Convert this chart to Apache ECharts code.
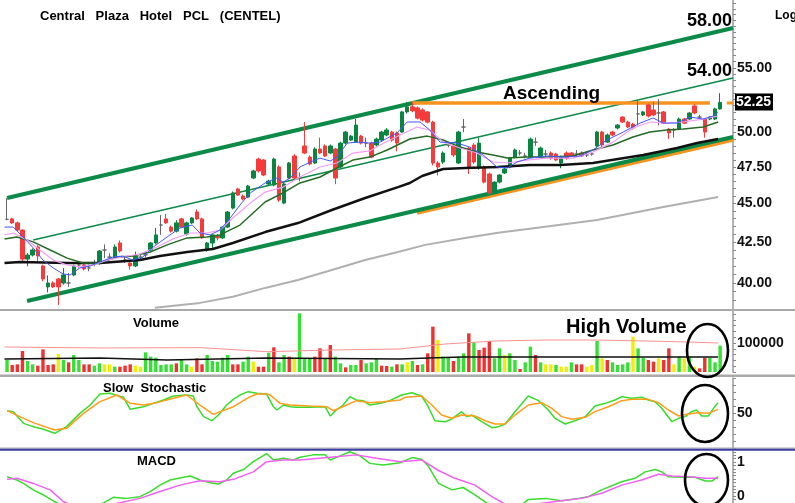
<!DOCTYPE html>
<html>
<head>
<meta charset="utf-8">
<title>CENTEL</title>
<script src="https://cdn.jsdelivr.net/npm/echarts@6.0.0/dist/echarts.min.js"></script>
<style>
html, body { margin: 0; padding: 0; background: #fff; }
#chart { width: 795px; height: 503px; }
</style>
</head>
<body>
<div id="chart"></div>
<script>
// daily candles: [open, close, low, high]
var candles = [
    [43.95, 43.95, 43.90, 45.35], [43.98, 43.72, 43.65, 44.05], [43.72, 43.26, 43.20, 43.80], [43.26, 41.44, 41.30, 43.30],
    [41.44, 41.69, 41.00, 41.80], [41.69, 42.00, 41.60, 42.10], [42.19, 41.63, 41.30, 42.30], [41.02, 40.24, 40.10, 41.10],
    [39.77, 40.00, 39.45, 40.45], [40.00, 39.77, 39.70, 40.10], [40.24, 39.77, 38.72, 40.30], [40.00, 40.48, 39.90, 40.90],
    [40.00, 40.00, 39.77, 40.60], [40.48, 41.02, 40.40, 41.10], [41.08, 41.08, 40.90, 41.30], [41.08, 40.84, 40.75, 41.20],
    [40.90, 40.90, 40.70, 41.10], [41.20, 41.20, 41.00, 41.40], [41.20, 41.94, 41.10, 42.00], [42.00, 42.00, 41.50, 42.35],
    [41.56, 41.56, 41.40, 41.80], [41.56, 42.19, 41.50, 42.35], [42.44, 41.94, 41.85, 42.60], [41.38, 41.38, 41.20, 41.60],
    [41.20, 41.02, 40.80, 41.30], [41.02, 41.63, 40.95, 41.90], [41.56, 41.56, 41.40, 41.75], [41.70, 41.70, 41.55, 41.90],
    [42.00, 42.44, 41.90, 42.50], [42.44, 42.95, 42.35, 43.40], [43.58, 43.58, 42.95, 44.23], [43.98, 43.72, 43.65, 44.30],
    [43.45, 43.19, 43.10, 43.55], [43.19, 43.72, 43.10, 43.90], [43.98, 43.45, 43.40, 44.05], [43.00, 43.72, 42.90, 43.80],
    [43.72, 44.04, 43.65, 44.10], [44.43, 43.98, 43.90, 44.60], [43.98, 42.76, 42.70, 44.05], [42.00, 42.44, 41.90, 42.50],
    [42.44, 42.95, 42.10, 43.00], [42.89, 42.76, 42.60, 43.00], [42.76, 43.45, 42.70, 43.50], [43.45, 44.43, 43.40, 44.50],
    [44.69, 45.70, 44.60, 45.80], [45.97, 45.56, 45.50, 46.05], [45.49, 45.29, 45.20, 45.60], [45.42, 46.17, 45.35, 46.25],
    [46.72, 47.21, 46.65, 47.30], [48.05, 47.21, 47.10, 48.15], [47.98, 46.93, 46.85, 48.05], [46.31, 46.51, 46.20, 46.60],
    [46.24, 48.05, 46.15, 48.15], [47.49, 45.22, 45.10, 47.60], [45.02, 46.31, 44.95, 46.40], [46.72, 47.77, 46.65, 47.85],
    [48.27, 46.72, 46.65, 48.40], [46.72, 46.72, 46.50, 47.10], [48.99, 48.48, 48.40, 50.75], [48.19, 47.70, 47.60, 48.30],
    [47.77, 48.77, 47.70, 48.90], [48.77, 48.48, 48.40, 49.60], [48.99, 48.27, 48.20, 49.10], [48.48, 48.99, 48.40, 49.10],
    [48.77, 46.72, 46.30, 48.85], [47.49, 49.20, 47.40, 49.30], [49.20, 50.01, 49.10, 50.10], [49.42, 49.71, 49.35, 49.80],
    [49.27, 50.53, 49.20, 51.00], [49.71, 49.20, 49.10, 49.80], [49.20, 49.20, 48.90, 49.60], [49.20, 48.19, 48.10, 49.30],
    [49.06, 49.49, 48.95, 49.60], [49.42, 50.01, 49.30, 50.10], [49.79, 50.16, 49.70, 50.30], [50.01, 49.42, 49.30, 50.10],
    [49.94, 49.20, 48.60, 50.05], [50.01, 51.52, 49.95, 51.60], [51.52, 51.91, 51.40, 52.30], [51.91, 51.60, 51.50, 52.25],
    [51.83, 51.05, 50.95, 51.95], [51.67, 50.90, 50.80, 51.80], [51.52, 50.75, 50.65, 51.60], [50.75, 47.77, 47.60, 50.85],
    [47.77, 47.49, 46.90, 47.90], [47.84, 48.48, 47.70, 48.60], [49.06, 49.06, 48.90, 49.30], [48.99, 48.34, 48.20, 49.10],
    [47.77, 50.01, 47.70, 50.10], [50.38, 50.38, 50.00, 50.98], [48.84, 47.49, 47.00, 48.95], [49.06, 47.84, 47.70, 49.20],
    [47.42, 49.20, 47.30, 49.60], [47.49, 46.44, 46.35, 47.60], [47.00, 45.70, 45.49, 47.10], [45.76, 46.44, 45.70, 46.50],
    [46.44, 46.93, 46.35, 47.00], [47.07, 47.35, 47.00, 47.45], [47.49, 48.12, 47.40, 48.20], [48.19, 48.70, 48.10, 48.80],
    [48.48, 48.48, 48.30, 48.70], [48.27, 48.27, 48.10, 48.50], [48.19, 49.49, 48.10, 49.60], [49.27, 49.27, 49.00, 49.60],
    [48.19, 48.84, 48.10, 48.95], [48.41, 48.41, 48.20, 48.70], [48.48, 48.12, 48.00, 48.60], [48.41, 47.98, 47.90, 48.50],
    [47.77, 48.19, 47.40, 48.30], [48.48, 48.12, 48.00, 48.60], [48.48, 48.27, 48.20, 48.55], [48.41, 48.41, 48.20, 48.70],
    [48.48, 48.27, 48.20, 48.60], [48.34, 48.34, 48.20, 48.60], [48.41, 48.41, 48.30, 48.55], [48.99, 50.01, 48.90, 50.10],
    [50.01, 49.06, 48.90, 50.10], [49.27, 49.79, 49.20, 49.90], [50.01, 49.79, 49.70, 50.10], [50.31, 50.53, 50.20, 50.60],
    [51.13, 50.75, 50.70, 51.20], [50.75, 50.38, 50.30, 50.85], [50.60, 50.31, 50.20, 50.70], [51.37, 51.37, 50.50, 52.40],
    [51.29, 51.52, 51.20, 51.60], [52.06, 51.21, 51.10, 52.15], [51.67, 51.29, 51.20, 52.30], [51.44, 51.44, 50.50, 52.50],
    [51.52, 50.67, 50.60, 51.60], [50.23, 49.94, 49.50, 50.30], [50.16, 50.16, 49.60, 50.30], [50.23, 50.98, 50.15, 51.10],
    [50.98, 50.67, 50.60, 51.05], [50.98, 51.44, 50.90, 51.50], [51.98, 51.44, 51.35, 52.10], [51.13, 51.13, 50.95, 51.30],
    [50.98, 50.01, 49.60, 51.05], [50.98, 51.13, 50.90, 51.20], [50.98, 51.75, 50.90, 51.85], [51.75, 52.25, 51.70, 52.97]
];

// daily volume and its colour code (g = up, r = down, y = unchanged)
var volumes = [
    41400, 24100, 26400, 72400, 37900, 26400, 21800, 78200, 24100, 26400,
    62100, 41400, 33300, 58600, 41400, 26400, 26400, 21800, 29900, 26400,
    26400, 18400, 18400, 21800, 26400, 21800, 18400, 67800, 52900, 49400,
    24100, 26400, 26400, 29900, 41400, 26400, 18400, 47100, 26400, 58600,
    37900, 35600, 49400, 58600, 26400, 26400, 35600, 52900, 35600, 18400,
    18400, 66700, 85100, 33300, 58600, 52900, 47100, 202300, 47100, 47100,
    52900, 81600, 47100, 93100, 52900, 29900, 16100, 24100, 24100, 41400,
    29900, 33300, 47100, 21800, 20700, 18400, 26400,
    26400, 33300, 37900, 24100, 26400, 64400, 156300, 110300, 52900, 49400,
    37900, 52900, 64400, 133300, 102300, 75900, 83900, 106900, 47100, 81600,
    58600, 64400, 41400, 10300, 33300, 87400, 58600, 33300, 26400, 26400,
    24100, 18400, 18400, 33300, 26400, 26400, 18400, 24100, 106900, 47100,
    41400, 33300, 24100, 26400, 33300, 121800, 81600, 49400, 41400, 35600,
    47100, 41400, 81600, 26400, 52900, 47100, 52900, 18400, 12600, 49400,
    49400, 33300, 90800
];
var volumeDir = 'grrrggrrrr' + 'ygrggrrggy' + 'ygrrryyggg' + 'gggrggyrrg' + 'ggggrrggyr' +
    'rgrggryggg' + 'rrgrggrggr' + 'gggrrgr' + 'gygrgrrygg' + 'rggrgrrrgg' + 'yggrggrgyy' +
    'gyygrryygy' + 'rggggyggrr' + 'yrrygygyrr' + 'ggg';

// moving averages: [day, price]
var maShort = [[-0.5, 43.45], [1.2, 43.45], [3.1, 42.82], [5.1, 42.13], [7, 41.38], [9, 40.90], [10.9, 40.54], [12.3, 40.48],
    [14.2, 40.90], [16.2, 41.02], [18.1, 41.26], [20.6, 41.56], [22.6, 41.63], [24.5, 41.38], [26.5, 41.56], [28.5, 42.19],
    [31.2, 42.82], [33.7, 43.39], [36.1, 43.58], [37.6, 43.07], [39.6, 42.95], [41.5, 43.26], [43.5, 44.04], [45.4, 44.89],
    [47.4, 45.70], [50.3, 46.38], [52.6, 46.72], [53.8, 46.44], [55.2, 46.72], [57.1, 47.49], [59.1, 47.84], [61, 48.12],
    [63, 47.91], [64.3, 48.19], [66.3, 49.20], [68.2, 49.27], [70.7, 49.20], [72.7, 49.27], [76, 49.94], [78, 50.76],
    [80.5, 50.76], [82.4, 50.16], [84.4, 49.27], [87.7, 49.20], [90.2, 48.91], [92.8, 48.34], [95.5, 47.49], [97.5, 47.42],
    [99.4, 47.84], [101.9, 48.12], [105.3, 48.27], [108.4, 48.19], [111.7, 48.27], [114.2, 48.70], [116.9, 49.42],
    [120.1, 50.01], [123.4, 50.68], [125.9, 51.06], [127.9, 50.68], [130.6, 50.68], [133.1, 51.13], [135.7, 50.98],
    [137.6, 51.21], [138.6, 51.50]];
var maMid = [[-0.5, 42.95], [1.2, 43.07], [3.9, 42.63], [6.4, 42.00], [9, 41.38], [11.7, 41.08], [14.2, 40.96], [16.8, 41.08],
    [19.5, 41.38], [23.4, 41.63], [25.9, 41.75], [29.2, 42.19], [32.3, 42.69], [35.7, 43.07], [39, 43.07], [41.5, 43.26],
    [44, 44.04], [47.4, 45.02], [50.3, 45.76], [53.8, 46.10], [57.1, 46.79], [61, 47.49], [64.3, 47.77], [67.4, 48.48],
    [70.7, 48.63], [72.7, 49.06], [76.6, 49.79], [79.9, 50.38], [82.4, 50.16], [85, 49.27], [88.3, 48.84], [91.6, 48.48],
    [94.7, 47.84], [97.5, 47.77], [101.3, 47.98], [105.3, 48.12], [110.3, 48.12], [114.2, 48.55], [118.1, 49.27],
    [122, 50.31], [125.3, 50.76], [128.6, 50.68], [131.8, 50.76], [135.7, 50.98], [138.6, 51.21]];
var maMedium = [[-0.5, 42.69], [1.9, 42.82], [5.1, 42.51], [8.4, 42.00], [11.7, 41.50], [14.8, 41.20], [18.1, 41.20],
    [21.4, 41.56], [24.5, 41.63], [27.9, 41.88], [31.2, 42.32], [35.1, 42.76], [39, 42.82], [41.5, 42.95], [45.4, 43.58],
    [50.3, 45.09], [53.8, 45.70], [57.1, 46.38], [61, 46.79], [64.3, 47.42], [67.4, 47.98], [70.7, 48.19], [74.1, 48.70],
    [78.5, 49.50], [81.9, 49.71], [85, 49.42], [88.3, 48.91], [91.6, 48.55], [94.7, 48.34], [97.5, 48.12], [101.3, 48.19],
    [105.3, 48.19], [110.3, 48.27], [114.2, 48.70], [118.1, 49.06], [122, 49.64], [125.3, 50.01], [128.6, 50.16],
    [131.8, 50.23], [135.7, 50.38], [138.6, 50.76]];
var maLong = [[-0.5, 41.20], [2.5, 41.26], [11.7, 41.20], [18.1, 41.20], [25.9, 41.38], [29.8, 41.63], [35.1, 41.88],
    [40.1, 42.06], [44, 42.44], [50.3, 43.13], [56.7, 43.71], [63.3, 44.56], [69.8, 45.36], [76.2, 46.10], [78.5, 46.38],
    [80.9, 46.86], [85, 47.35], [89.3, 47.42], [95.7, 47.49], [101.9, 47.63], [107.8, 47.63], [114.2, 47.77], [124, 48.34],
    [130.6, 48.84], [134.5, 49.20], [138.6, 49.50]];
var maVeryLong = [[28.8, 38.56], [37.6, 38.84], [44, 39.19], [50.3, 39.71], [56.7, 40.18], [63.3, 40.78], [69.8, 41.38],
    [76.2, 41.88], [81.5, 42.32], [89.3, 42.76], [95.7, 43.09], [101.9, 43.35], [115, 43.91], [127.9, 44.76], [138.6, 45.43]];

// trend lines: [day, price]
var upperChannel = [[0, 45.36], [141.5, 58.33]];
var middleChannel = [[5.1, 42.63], [141.5, 54.17]];
var lowerChannel = [[3.9, 38.95], [141.5, 49.64]];
var resistance = [[78.9, 52.2], [137, 52.2]];
var resistanceTick = [[140.3, 52.2], [141.5, 52.2]];
var support = [[79.9, 44.36], [141.5, 49.42]];

// volume averages: [day, volume]
var volAvgLong = [[-0.5, 86200], [18.1, 82800], [37.6, 84000], [50.7, 70000], [63.5, 75900], [76.6, 79300], [85.4, 96600],
    [95.1, 106900], [104.9, 110300], [114.6, 110300], [124.4, 106900], [132.7, 103400], [138.6, 100000]];
var volAvgShort = [[-0.5, 44800], [18.1, 48300], [31.2, 41400], [50.7, 48300], [76.6, 44800], [82.1, 48300], [88.7, 51700],
    [101.6, 51700], [127.7, 51700], [138.6, 51700]];

// slow stochastic: [day, value]
var stochK = [[0, 53.3], [1.2, 51.9], [3.2, 35.2], [5.1, 30.5], [7.1, 26.7], [9.3, 21.0], [11.6, 30.5], [14.2, 49.5],
    [16.2, 61.4], [18.1, 77.1], [20.1, 78.1], [21.7, 74.3], [22.7, 72.4], [24, 55.2], [26.6, 59.0], [28.5, 63.8],
    [30.5, 68.6], [32.4, 74.3], [35, 75.7], [36.3, 74.3], [37, 59.0], [38.3, 44.8], [39.9, 39.0], [41.2, 47.1],
    [42.8, 61.4], [44.1, 69.5], [45.4, 75.7], [47, 80.5], [48.7, 78.1], [50.6, 77.1], [51.9, 59.0], [52.6, 54.3],
    [53.9, 61.4], [55.2, 59.0], [56.4, 58.1], [59, 58.1], [62, 59.0], [63, 45.7], [64.2, 54.3], [65.5, 61.4], [66.8, 73.3],
    [68.1, 68.6], [69.4, 67.6], [70.7, 61.4], [72, 62.9], [73.3, 64.8], [74.6, 67.6], [76.9, 75.7], [78.9, 79.0],
    [80.8, 74.3], [82.1, 59.0], [83.4, 39.0], [85.4, 37.6], [86.3, 40.0], [87.3, 44.8], [88.6, 51.9], [89.6, 44.8],
    [90.6, 47.1], [92.5, 37.6], [94.5, 29.0], [95.8, 30.5], [97.1, 34.3], [99, 51.9], [101.6, 74.3], [103.6, 67.6],
    [105.5, 54.3], [106.8, 42.4], [108.8, 34.3], [110.7, 39.0], [112.7, 44.8], [114.6, 60.0], [116.6, 63.8], [118.5, 68.6],
    [119.8, 73.3], [121.8, 71.0], [123.7, 72.4], [125, 68.6], [126.3, 66.2], [127.6, 56.7], [129.6, 37.6], [130.9, 42.4],
    [132.2, 44.8], [133.4, 51.9], [134.4, 54.3], [135.4, 45.7], [136.7, 45.7], [137.7, 56.7], [138.6, 64.8]];
var stochD = [[0, 53.3], [2.5, 44.8], [5.1, 36.2], [9.3, 25.7], [11.6, 28.1], [14.9, 49.5], [18.1, 66.2], [21.4, 75.7],
    [24, 63.8], [26.6, 61.4], [29.2, 64.8], [32.4, 71.0], [35, 75.7], [37.6, 61.4], [40.2, 48.1], [44.1, 59.0], [47.4, 73.3],
    [48.7, 77.1], [50.6, 77.1], [51.3, 75.7], [53.2, 63.8], [55.2, 61.4], [59, 60.0], [62.3, 59.0], [63.6, 53.3],
    [66.2, 61.4], [68.1, 67.6], [70.7, 64.8], [73.3, 66.2], [76.6, 68.6], [77.6, 72.4], [80.8, 74.3], [82.8, 61.4],
    [84.7, 47.1], [86.7, 42.4], [88.6, 47.1], [91.2, 45.7], [93.2, 39.0], [95.1, 34.3], [97.1, 34.3], [99, 47.1],
    [101.6, 61.4], [104.2, 64.8], [106.2, 56.7], [108.1, 44.8], [110.1, 41.0], [112.7, 43.8], [114.6, 51.9], [117.2, 59.0],
    [119.8, 67.6], [121.8, 69.5], [125, 69.5], [127, 64.8], [128.9, 54.3], [130.9, 45.7], [132.8, 48.6], [134.7, 50.5],
    [136.7, 49.5], [138.6, 55.2]];

// MACD: [day, value]
var macdLine = [[0, 0.57], [1.9, 0.47], [3.2, 0.37], [5.1, 0.18], [7.1, 0.03], [9.3, -0.17], [11, -0.30], [14.9, -0.50],
    [18.8, -0.20], [20.7, -0.04], [23.3, -0.07], [25.9, -0.02], [27.9, 0.13], [29.8, 0.32], [31.8, 0.47], [34.4, 0.55],
    [35.7, 0.59], [37.6, 0.47], [39.6, 0.39], [41.2, 0.35], [42.8, 0.47], [44.1, 0.67], [46.1, 0.78], [48, 1.01],
    [50.6, 1.25], [51.9, 1.06], [53.9, 1.11], [55.8, 1.06], [57.1, 1.14], [59.7, 1.21], [62, 1.21], [63, 1.06], [64.9, 1.18],
    [66.8, 1.30], [68.8, 1.18], [70.7, 0.96], [73.3, 0.91], [76.6, 0.98], [78.9, 1.13], [80.8, 1.08], [82.1, 0.88],
    [84.1, 0.37], [86.7, 0.18], [88.9, 0.25], [91.2, 0.03], [93.8, -0.24], [95.1, -0.30], [98.4, -0.50], [101.6, -0.10],
    [104.9, -0.07], [108.1, -0.14], [111.4, -0.07], [113.3, -0.02], [115.9, 0.18], [119.8, 0.42], [122.4, 0.52],
    [124.4, 0.71], [126.3, 0.78], [127.6, 0.71], [128.9, 0.57], [132.2, 0.55], [134.1, 0.55], [136.1, 0.44], [137.4, 0.44],
    [138.6, 0.57]];
var macdSignal = [[0, 0.49], [1.9, 0.52], [5.1, 0.37], [8.4, 0.18], [11, -0.17], [14.9, -0.40], [21.4, -0.22],
    [25.9, -0.07], [29.8, 0.13], [33.7, 0.32], [37.6, 0.45], [41.5, 0.42], [44.1, 0.49], [48, 0.71], [50.6, 1.01],
    [53.9, 1.06], [57.1, 1.06], [63, 1.14], [68.1, 1.21], [72, 1.11], [76.6, 1.01], [80.8, 1.06], [84.1, 0.75], [87.3, 0.52],
    [91.2, 0.32], [94.5, -0.02], [97.1, -0.24], [102.9, -0.24], [108.1, -0.14], [112, -0.07], [115.9, 0.08], [119.8, 0.32],
    [123.7, 0.47], [127, 0.64], [129.6, 0.59], [132.8, 0.57], [136.1, 0.52], [138.6, 0.52]];

var priceLabels = [40, 42.5, 45, 47.5, 50, 55];

var FONT = '"Liberation Sans", Arial, sans-serif';
var chart = echarts.init(document.getElementById('chart'));

var nDays = candles.length + 2;
var days = [];
for (var i = 0; i < nDays; i++) {
    days.push(String(i));
}

function steps(from, to, step) {
    var out = [];
    for (var v = from; v <= to + 1e-9; v += step) {
        out.push(Math.round(v * 1000) / 1000);
    }
    return out;
}

var volColors = {g: '#35e035', r: '#f23030', y: '#f2ee00'};
var volData = volumes.map(function (v, i) {
    return {value: v, itemStyle: {color: volColors[volumeDir.charAt(i)]}};
});

var gridBox = [[0, 309], [311, 61], [378, 70], [451, 52]];
var grids = gridBox.map(function (g) {
    return {left: 4.5, right: 62, top: g[0], height: g[1], outerBoundsMode: 'none', containLabel: false};
});

var xAxes = [];
[0, 1, 2, 3].forEach(function (g) {
    xAxes.push({type: 'category', gridIndex: g, data: days, show: false});
});
[0, 1, 2, 3].forEach(function (g) {
    xAxes.push({type: 'value', gridIndex: g, min: -0.5, max: nDays - 0.5, show: false});
});

function yAxis(grid, opt, tickVals, labelVals, fmt) {
    return Object.assign({
        gridIndex: grid,
        position: 'right',
        splitLine: {show: false},
        axisLine: {show: true, onZero: false, lineStyle: {color: '#9a9a9a', width: 1.5}},
        axisTick: {show: true, customValues: tickVals, length: 3, lineStyle: {color: '#888'}},
        axisLabel: {
            customValues: labelVals, formatter: fmt, margin: 4,
            color: '#111', fontWeight: 'bold', fontSize: 14, fontFamily: FONT
        }
    }, opt);
}

var yAxes = [
    yAxis(0, {type: 'log', min: 38.49, max: 60.8}, steps(38.5, 60.5, 0.5), priceLabels, function (v) {
        return v.toFixed(2);
    }),
    yAxis(1, {type: 'value', min: 0, max: 210300}, steps(0, 200000, 20000), [100000], function (v) {
        return String(v);
    }),
    yAxis(2, {type: 'value', min: 0, max: 100}, steps(0, 100, 10), [50], function (v) {
        return String(v);
    }),
    yAxis(3, {type: 'value', min: -0.206, max: 1.324}, steps(-0.2, 1.3, 0.1), [0, 1], function (v) {
        return String(v);
    })
];

function line(data, grid, color, width, z) {
    return {
        type: 'line', xAxisIndex: 4 + grid, yAxisIndex: grid, data: data,
        symbol: 'none', showSymbol: false, silent: true, z: z,
        lineStyle: {color: color, width: width}
    };
}

var series = [
    line(maVeryLong, 0, '#b0b0b0', 2, 2),
    line(support, 0, '#f7931e', 3.5, 2),
    line(lowerChannel, 0, '#0b8a48', 4, 3),
    line(upperChannel, 0, '#0b8a48', 4, 3),
    line(middleChannel, 0, '#0b8a48', 1.6, 3),
    line(resistance, 0, '#f7931e', 3.5, 3),
    line(resistanceTick, 0, '#f7931e', 3, 3),
    {
        type: 'candlestick', xAxisIndex: 0, yAxisIndex: 0, data: candles, barWidth: 4, z: 4, silent: true,
        itemStyle: {
            color: '#0a8541', color0: '#f53b3b', borderColor: '#0a8541', borderColor0: '#f53b3b',
            borderColorDoji: '#666', borderWidth: 1
        }
    },
    line(maLong, 0, '#111', 2.5, 5),
    line(maMedium, 0, '#256b25', 1.5, 5),
    line(maMid, 0, '#f59cf5', 1.2, 5),
    line(maShort, 0, '#4457ff', 1, 6),
    {
        type: 'bar', xAxisIndex: 1, yAxisIndex: 1, data: volData, barWidth: 3.4, silent: true, z: 2
    },
    line(volAvgLong, 1, '#ff8f8f', 1, 3),
    line(volAvgShort, 1, '#111', 1.3, 3),
    line(stochK, 2, '#38dc2c', 1.5, 3),
    line(stochD, 2, '#ff9c1a', 1.5, 4),
    line(macdLine, 3, '#38dc2c', 1.5, 3),
    line(macdSignal, 3, '#f25ff2', 1.5, 4)
];

chart.setOption({
    animation: false,
    backgroundColor: '#fff',
    grid: grids,
    xAxis: xAxes,
    yAxis: yAxes,
    series: series
});

function text(str, x, y, size, align, color) {
    return {
        type: 'text', x: x, y: y, z: 20, silent: true,
        style: {
            text: str, font: 'bold ' + size + 'px ' + FONT, fill: color || '#000',
            textAlign: align || 'left', textVerticalAlign: 'middle', align: align || 'left', verticalAlign: 'middle'
        }
    };
}

function ellipse(cx, cy, rx, ry) {
    return {
        type: 'ellipse', z: 20, silent: true, shape: {cx: cx, cy: cy, rx: rx, ry: ry},
        style: {fill: 'none', stroke: '#000', lineWidth: 2.6}
    };
}

var lastClose = candles[candles.length - 1][1];
var lastY = chart.convertToPixel({yAxisIndex: 0}, lastClose);

chart.setOption({
    graphic: [
        {type: 'rect', shape: {x: 0, y: 309, width: 795, height: 2}, style: {fill: '#a9a9a9'}, z: 10, silent: true},
        {type: 'rect', shape: {x: 0, y: 374.5, width: 795, height: 2.5}, style: {fill: '#a9a9a9'}, z: 10, silent: true},
        {type: 'rect', shape: {x: 0, y: 447.5, width: 795, height: 1.2}, style: {fill: '#a9a9a9'}, z: 10, silent: true},
        {type: 'rect', shape: {x: 0, y: 448.8, width: 795, height: 2}, style: {fill: '#3c3ca6'}, z: 10, silent: true},
        text('Central   Plaza   Hotel   PCL   (CENTEL)', 40, 16.5, 13),
        text('Log', 775, 16, 12),
        text('58.00', 732, 21, 18, 'right'),
        text('54.00', 732, 71, 18, 'right'),
        text('Ascending', 503, 94, 19),
        text('High Volume', 566, 327, 20),
        text('Volume', 133, 323, 13),
        text('Slow  Stochastic', 103, 388, 13),
        text('MACD', 137, 461, 13),
        {
            type: 'rect', z: 20, silent: true,
            shape: {x: 735, y: Math.round(lastY) - 8.5, width: 38, height: 17}, style: {fill: '#000'}
        },
        text(lastClose.toFixed(2), 736, Math.round(lastY) + 0.5, 14, 'left', '#fff'),
        ellipse(707.5, 350.5, 20.5, 26.5),
        ellipse(705, 413.5, 23, 28.5),
        ellipse(706.5, 480, 21.5, 26)
    ]
});
</script>
</body>
</html>
